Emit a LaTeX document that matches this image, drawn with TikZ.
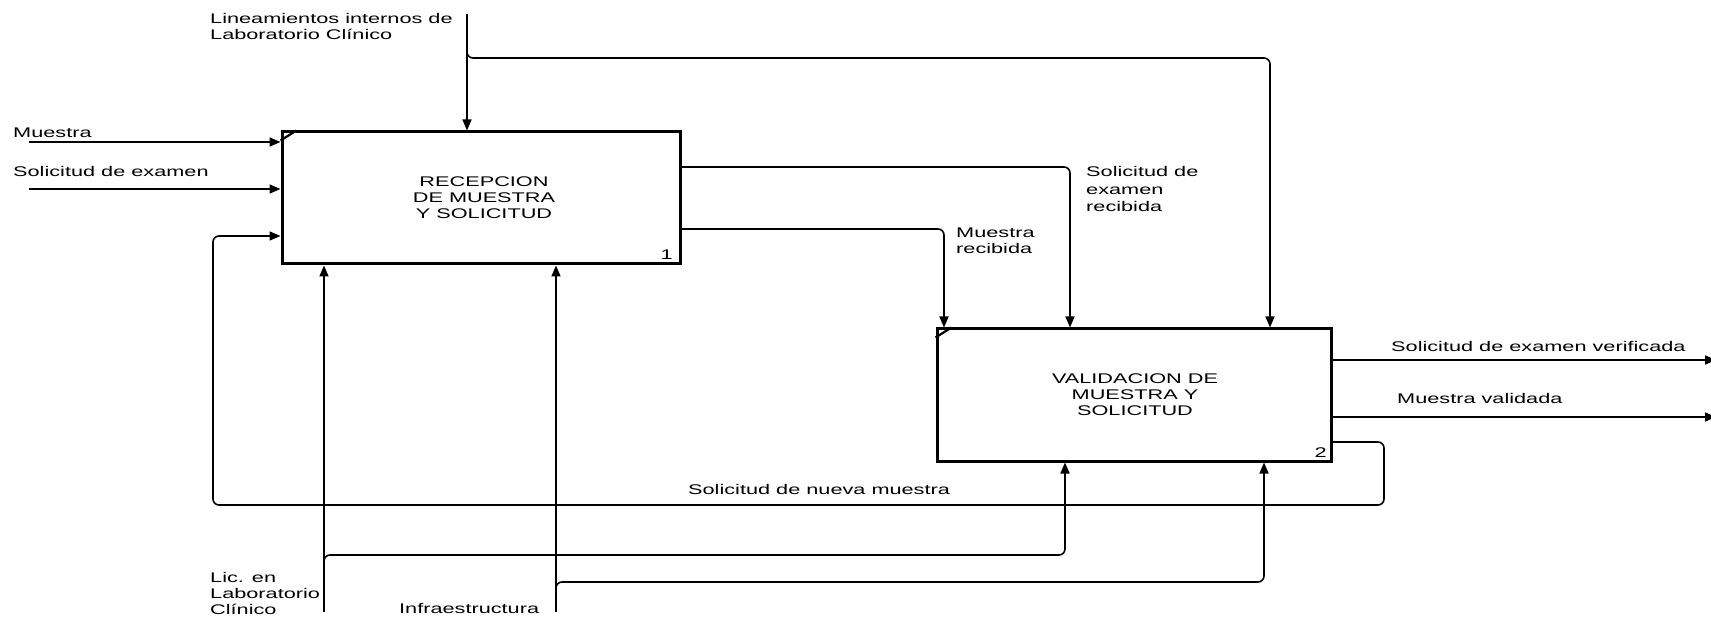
\documentclass[tikz,border=0pt]{standalone}
\usepackage{fontspec}
\setmainfont{Liberation Sans}[FakeStretch=1.55]
\usetikzlibrary{arrows.meta}
\begin{document}
\begin{tikzpicture}[x=1pt,y=-1pt,
  box/.style={draw, line width=3pt, inner sep=0pt},
  conn/.style={line width=1.6pt, rounded corners=6pt},
  arr/.style={conn, -{Triangle[length=11pt,width=9pt]}},
  lbl/.style={inner sep=0pt, align=left, anchor=base west, font=\fontsize{14}{16}\selectfont},
  boxtxt/.style={inner sep=0pt, align=center, font=\fontsize{14}{16}\selectfont},
  corner/.style={line width=2.2pt}]
\useasboundingbox (0,0) rectangle (1711,617);
% boxes
\node[box, minimum width=398pt, minimum height=132pt] (b1) at (481,198) {};
\node[box, minimum width=394pt, minimum height=132pt] (b2) at (1134,395) {};
\node[boxtxt] (t1) at (484,198) {RECEPCION\\DE MUESTRA\\Y SOLICITUD};
\node[boxtxt] (t2) at (1135,395) {VALIDACION DE\\MUESTRA Y\\SOLICITUD};
\node[inner sep=0pt, anchor=base east, font=\fontsize{14}{16}\selectfont] (n1) at (673,260) {1};
\node[inner sep=0pt, anchor=base east, font=\fontsize{14}{16}\selectfont] (n2) at (1327,457) {2};
\draw[corner] ([yshift=-10pt]b1.north west) -- ([xshift=16pt]b1.north west);
\draw[corner] ([yshift=-10pt]b2.north west) -- ([xshift=16pt]b2.north west);
% coordinates
\coordinate (ctl) at (467,14);
\coordinate (cbs) at (467,50);
\coordinate (cb) at (1270,58);
\coordinate (inM) at (29,142);
\coordinate (inS) at (29,189);
\coordinate (fb1) at (1384,442);
\coordinate (fb2) at (1384,505);
\coordinate (fb3) at (213,505);
\coordinate (fb4) at (213,236);
\coordinate (o1) at (1070,167);
\coordinate (o2) at (944,229);
\coordinate (m1) at (324,612);
\coordinate (m1s) at (324,563);
\coordinate (m1b) at (1065,555);
\coordinate (m2) at (556,612);
\coordinate (m2s) at (556,590);
\coordinate (m2b) at (1264,582);
\coordinate (r1) at (1716,360);
\coordinate (r2) at (1716,417);
% controls
\draw[arr] (ctl) -- (ctl |- b1.north);
\draw[arr] (cbs) -- (cbs |- cb) -- (cb) -- (cb |- b2.north);
% inputs
\draw[arr] (inM) -- (inM -| b1.west);
\draw[arr] (inS) -- (inS -| b1.west);
% feedback
\draw[arr] (fb1 -| b2.east) -- (fb1) -- (fb2) -- (fb3) -- (fb4) -- (fb4 -| b1.west);
% outputs of box 1
\draw[arr] (o1 -| b1.east) -- (o1) -- (o1 |- b2.north);
\draw[arr] (o2 -| b1.east) -- (o2) -- (o2 |- b2.north);
% mechanisms
\draw[arr] (m1) -- (m1 |- b1.south);
\draw[arr] (m1s) -- (m1s |- m1b) -- (m1b) -- (m1b |- b2.south);
\draw[arr] (m2) -- (m2 |- b1.south);
\draw[arr] (m2s) -- (m2s |- m2b) -- (m2b) -- (m2b |- b2.south);
% outputs of box 2
\draw[arr] (r1 -| b2.east) -- (r1);
\draw[arr] (r2 -| b2.east) -- (r2);
% labels (base = baseline of the last line)
\node[lbl] (lLin) at (210,40) {Lineamientos internos de\\Laboratorio Clínico};
\node[lbl] (lMu) at (13,138) {Muestra};
\node[lbl] (lSo) at (13,177) {Solicitud de examen};
\node[lbl, font=\fontsize{14}{17.5}\selectfont] (lSer) at (1086,212) {Solicitud de\\examen\\recibida};
\node[lbl] (lMr) at (956,254) {Muestra\\recibida};
\node[lbl] (lSev) at (1391,352) {Solicitud de examen verificada};
\node[lbl] (lMv) at (1397,404) {Muestra validada};
\node[lbl] (lSnm) at (688,494) {Solicitud de nueva muestra};
\node[lbl] (lLic) at (210,614) {Lic. en\\Laboratorio\\Clínico};
\node[lbl] (lInf) at (399,613) {Infraestructura};
\end{tikzpicture}
\end{document}
